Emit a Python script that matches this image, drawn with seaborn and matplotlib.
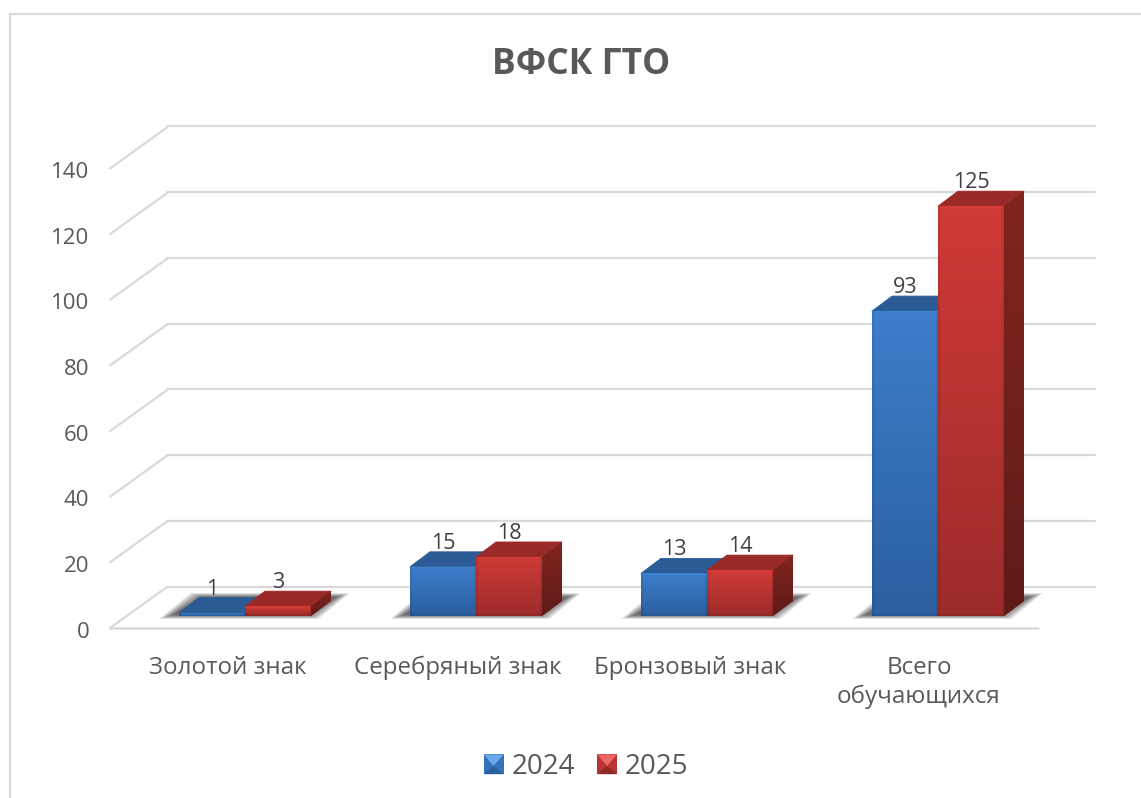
import numpy as np
import pandas as pd
import matplotlib
matplotlib.use("Agg")
import matplotlib.pyplot as plt
import seaborn as sns
from matplotlib.patches import Polygon, Rectangle
from matplotlib.legend_handler import HandlerPatch
from matplotlib.lines import Line2D
from matplotlib.transforms import Affine2D

categories = ["Золотой знак", "Серебряный знак", "Бронзовый знак", "Всего\nобучающихся"]
years = ["2024", "2025"]
values_2024 = [1, 15, 13, 93]
values_2025 = [3, 18, 14, 125]
y_ticks = [0, 20, 40, 60, 80, 100, 120, 140]
title = "ВФСК ГТО"

W, H = 1141, 798
GRID = "#d9d9d9"
TEXT = "#595959"
LABEL = "#404040"

sns.set_theme(style="white")
plt.rcParams["font.family"] = ["Open Sans", "DejaVu Sans"]

df = pd.DataFrame({
    "cat": categories * 2,
    "year": [years[0]] * 4 + [years[1]] * 4,
    "value": values_2024 + values_2025,
})

fig = plt.figure(figsize=(W / 100, H / 100), dpi=100, facecolor="white")


def make_axes(x0, x1, y0_px, y_top_px):
    a = fig.add_axes([x0 / W, 1 - y0_px / H, (x1 - x0) / W, (y0_px - y_top_px) / H])
    a.patch.set_alpha(0)
    for s in a.spines.values():
        s.set_visible(False)
    return a


# outer frame: only its top and left edges fall inside the picture
fig.add_artist(Line2D([9.5 / W, 9.5 / W, 1.0], [0.0, 1 - 13.5 / H, 1 - 13.5 / H],
                      transform=fig.transFigure, color=GRID, lw=1.6))

# back wall with gridlines
ax_back = make_axes(167, 1095, 587, 126)
ax_back.set_ylim(0, 140)
ax_back.set_xlim(0, 1)
ax_back.set_xticks([])
ax_back.set_yticks(y_ticks)
ax_back.tick_params(left=False, labelleft=False)
ax_back.grid(True, axis="y", color=GRID, lw=1.6)
ax_back.set_axisbelow(True)
for t in ax_back.yaxis.get_gridlines():
    t.set_clip_on(False)

# front plane carrying the axis labels
ax_front = make_axes(110, 1038, 628, 168.5)
ax_front.set_ylim(0, 140)
ax_front.set_xlim(-0.5, 3.5)
ax_front.set_xticks(range(4))
ax_front.set_xticklabels(categories, fontsize=17.4, color=TEXT, linespacing=1.28)
ax_front.set_yticks(y_ticks)
ax_front.set_yticklabels([str(v) for v in y_ticks], fontsize=16, color=TEXT)
ax_front.tick_params(axis="x", length=0, pad=20)
ax_front.tick_params(axis="y", length=0, pad=15)
for lab in ax_front.get_yticklabels():
    lab.set_transform(lab.get_transform() + Affine2D().translate(0, -1.5))
for lab, shift in zip(ax_front.get_xticklabels(), [1.5, 0, 0, -3]):
    lab.set_transform(lab.get_transform() + Affine2D().translate(shift, 0))
dx_wall = 57 / 232
dy_wall = 41 / (459.5 / 140)
for v in y_ticks:
    ax_front.add_line(Line2D([-0.5, -0.5 + dx_wall], [v, v + dy_wall], color=GRID, lw=1.6, clip_on=False))
ax_front.add_line(Line2D([-0.5, 3.5], [0, 0], color=GRID, lw=1.8, clip_on=False))

# bars
ax = make_axes(129.5, 1053.5, 616, 157)
sns.barplot(data=df, x="cat", y="value", hue="year", hue_order=years, order=categories,
            palette=["#3572ba", "#c03531"], width=0.5714, gap=0, dodge=True, ax=ax, legend=False,
            saturation=1, edgecolor="none", zorder=3)
ax.set_xlim(-0.5, 3.5)
ax.set_ylim(0, 140)
ax.set_xlabel("")
ax.set_ylabel("")
ax.set_xticks([])
ax.set_yticks([])

px_x = 1 / 231.0
px_y = 1 / (459.0 / 140)
depth_x = 20 * px_x
depth_y = 15 * px_y


def hex_rgb(c):
    return np.array(matplotlib.colors.to_rgb(c))


def front_gradient(width_px, height_px, top, bottom):
    w, h = max(int(width_px), 2), max(int(height_px), 2)
    vert = np.linspace(0, 1, h)[:, None, None]
    img = (1 - vert) * hex_rgb(top) + vert * hex_rgb(bottom)
    img = np.repeat(img, w, axis=1)
    shade = np.ones((h, w, 1))
    edge = np.minimum(np.arange(w), np.arange(w)[::-1])
    shade[:, edge < 2, 0] *= 0.92
    img = np.clip(img * shade, 0, 1)
    if h > 6:
        img[:2] = np.clip(img[:2] * 1.03, 0, 1)
        img[-2:] = img[-2:] * 0.92
    return img


styles = [
    dict(top="#3c7ecb", bottom="#2b5f9f", cap="#2b5b94", side0="#24507f", side1="#1d3f66"),
    dict(top="#d03a37", bottom="#9c2c2a", cap="#992a27", side0="#82241f", side1="#5f1b18"),
]

# soft floor shadows, one per group, behind all bars
for i in range(len(categories)):
    left = ax.containers[0][i]
    right = ax.containers[1][i]
    x0, x1 = left.get_x(), right.get_x() + right.get_width()
    steps = 14
    for k in range(steps):
        g = (steps - 1 - k) / (steps - 1)
        gx = (1 + 13 * g) * px_x
        gy = (-1 + 4 * g) * px_y
        pts = [(x0 - gx - 6 * px_x, -gy), (x1 + gx - 6 * px_x, -gy),
               (x1 + depth_x + gx + 5 * px_x, depth_y + 5 * px_y + gy),
               (x0 + depth_x + 5 * px_x - gx, depth_y + 5 * px_y + gy)]
        ax.add_patch(Polygon(pts, closed=True, fc="#000000", ec="none", alpha=0.055, zorder=1, clip_on=False))

for j, container in enumerate(ax.containers):
    st = styles[j]
    for bar in container:
        x0, w, h = bar.get_x(), bar.get_width(), bar.get_height()
        x1 = x0 + w
        z = 3 + j * 2
        # top face
        ax.add_patch(Polygon([(x0, h), (x1, h), (x1 + depth_x, h + depth_y), (x0 + depth_x, h + depth_y)],
                             closed=True, fc=st["cap"], ec=st["cap"], lw=0.6, joinstyle="round", zorder=z, clip_on=False))
        # side face with vertical gradient
        side = Polygon([(x1, 0), (x1 + depth_x, depth_y), (x1 + depth_x, h + depth_y), (x1, h)],
                       closed=True, fc=st["side0"], ec="none", zorder=z, clip_on=False)
        ax.add_patch(side)
        grad = np.linspace(0, 1, 64)[:, None, None]
        side_img = (1 - grad) * hex_rgb(st["side0"]) + grad * hex_rgb(st["side1"])
        im = ax.imshow(side_img, extent=(x1, x1 + depth_x, 0, h + depth_y), aspect="auto", zorder=z + 0.1)
        im.set_clip_path(side)
        # front face gradient clipped to the seaborn bar
        bar.set_zorder(z + 0.5)
        img = front_gradient(w / px_x, h / px_y, st["top"], st["bottom"])
        im2 = ax.imshow(img, extent=(x0, x1, 0, h), aspect="auto", zorder=z + 0.6, interpolation="bilinear")
        im2.set_clip_path(bar)
    ax.bar_label(container, labels=[str(int(b.get_height())) for b in container], padding=9.5,
                 fontsize=15.5, color=LABEL, zorder=20)
ax.set_xlim(-0.5, 3.5)
ax.set_ylim(0, 140)

fig.text(581 / W, 1 - 65 / H, title, ha="center", va="center", fontsize=25.5, fontweight="bold", color=TEXT)


# legend with bevelled square keys
class BevelHandler(HandlerPatch):
    def create_artists(self, legend, orig, xd, yd, width, height, fontsize, trans):
        light, mid, dark = orig.bevel
        x, y = -xd, -yd
        cx, cy = x + width / 2, y + height * 0.42
        tl, tr = (x, y + height), (x + width, y + height)
        bl, br = (x, y), (x + width, y)
        return [
            Rectangle((x, y), width, height, fc=mid, ec="none", transform=trans),
            Polygon([bl, br, (cx, cy)], closed=True, fc=dark, ec="none", transform=trans),
            Polygon([tl, tr, (cx, cy)], closed=True, fc=light, ec="none", transform=trans),
        ]


h1 = Rectangle((0, 0), 1, 1)
h1.bevel = ("#69a8ea", "#3572ba", "#2a5f9e")
h2 = Rectangle((0, 0), 1, 1)
h2.bevel = ("#ee6664", "#b93533", "#8f2a28")
fig.legend([h1, h2], years, loc="center", bbox_to_anchor=(586 / W, 1 - 767 / H), ncol=2, frameon=False,
           fontsize=20, labelcolor=TEXT, handlelength=0.72, handleheight=0.72, handletextpad=0.28,
           columnspacing=0.8, borderpad=0, handler_map={Rectangle: BevelHandler()})

fig.savefig("out.png", dpi=100, facecolor="white")
